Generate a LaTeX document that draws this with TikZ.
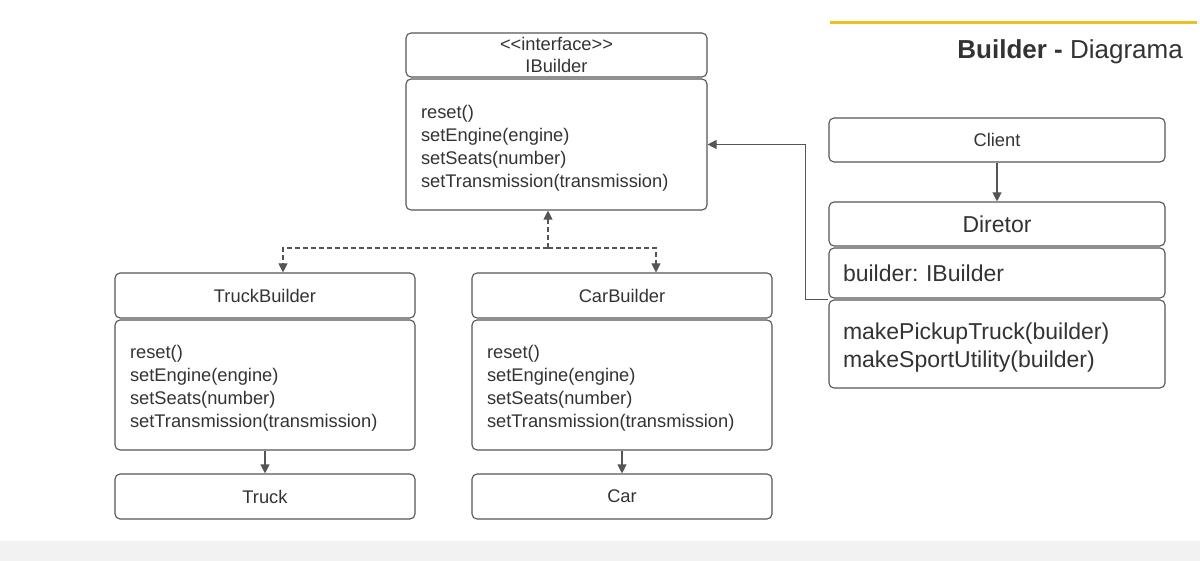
\documentclass[tikz,border=0pt]{standalone}
\usepackage{fontspec}
\setmainfont{Liberation Sans}
\usetikzlibrary{arrows.meta}
\definecolor{linec}{HTML}{555555}
\definecolor{txtc}{HTML}{333333}
\definecolor{barc}{HTML}{F2F2F2}
\definecolor{goldc}{HTML}{F0BE1E}
\frenchspacing
\newcommand{\topstrut}{\rule{0pt}{20pt}}
\tikzset{
  box/.style={draw=linec, line width=1.1pt, rounded corners=5pt, rectangle, inner sep=0pt, text=txtc, font=\fontsize{18.3}{23}\selectfont, align=center},
  bodybox/.style={box, align=left, inner xsep=15pt},
  bigbody/.style={box, align=left, inner xsep=14pt, font=\fontsize{23}{28}\selectfont},
  arr/.style={draw=linec, line width=1.1pt, -{Triangle[length=9pt,width=9pt]}},
  dashln/.style={dash pattern=on 5pt off 3pt}
}
\begin{document}
\begin{tikzpicture}[x=1pt,y=-1pt]
\useasboundingbox (0,0) rectangle (1200,561);
\fill[barc] (0,541) rectangle (1200,561);
\draw[goldc, line width=2.5pt] (830,22.5) -- (1197,22.5);
\node[anchor=east, text=txtc, font=\fontsize{26}{30}\selectfont, inner sep=0pt] (title) at (1183,52) {\textbf{Builder -} Diagrama};

% IBuilder
\node[box, minimum width=301pt, minimum height=44pt] (ibh) at (556.5,55) {<\kern0pt<interface>\kern0pt>\\[-1pt]IBuilder};
\node[bodybox, text width=271pt, minimum height=131pt] (ibb) at (556.5,144.5) {\topstrut reset()\\setEngine(engine)\\setSeats(number)\\setTransmission(transmission)};

% TruckBuilder
\node[box, minimum width=300pt, minimum height=45pt] (tbh) at (265,295.5) {TruckBuilder};
\node[bodybox, text width=270pt, minimum height=130pt] (tbb) at (265,385) {\topstrut reset()\\setEngine(engine)\\setSeats(number)\\setTransmission(transmission)};
\node[box, minimum width=300pt, minimum height=45pt] (truck) at (265,496.5) {Truck};

% CarBuilder
\node[box, minimum width=300pt, minimum height=45pt] (cbh) at (622,295.5) {CarBuilder};
\node[bodybox, text width=270pt, minimum height=130pt] (cbb) at (622,385) {\topstrut reset()\\setEngine(engine)\\setSeats(number)\\setTransmission(transmission)};
\node[box, minimum width=300pt, minimum height=45pt] (car) at (622,496.5) {Car};

% Client / Diretor
\node[box, minimum width=336pt, minimum height=44pt] (client) at (997,140) {Client};
\node[box, minimum width=336pt, minimum height=44pt, font=\fontsize{23}{28}\selectfont] (dir) at (997,224) {Diretor};
\node[bigbody, text width=308pt, minimum height=50pt] (attr) at (997,273) {builder: IBuilder};
\node[bigbody, text width=308pt, minimum height=88pt] (meth) at (997,344) {\rule{0pt}{24pt}makePickupTruck(builder)\\makeSportUtility(builder)};

% connectors
\draw[arr] (client) -- (dir);
\draw[arr] (tbb) -- (truck);
\draw[arr] (cbb) -- (car);
\draw[arr] (meth.north west) -- ++(-23,0) |- (ibb.east);

\coordinate (j) at (548,248);
\draw[arr, dashln] (j) -- (j |- ibb.south);
\draw[arr, dashln] (j) -| ([xshift=18pt]tbh.north);
\draw[arr, dashln] (j) -| ([xshift=34pt]cbh.north);
\end{tikzpicture}
\end{document}
